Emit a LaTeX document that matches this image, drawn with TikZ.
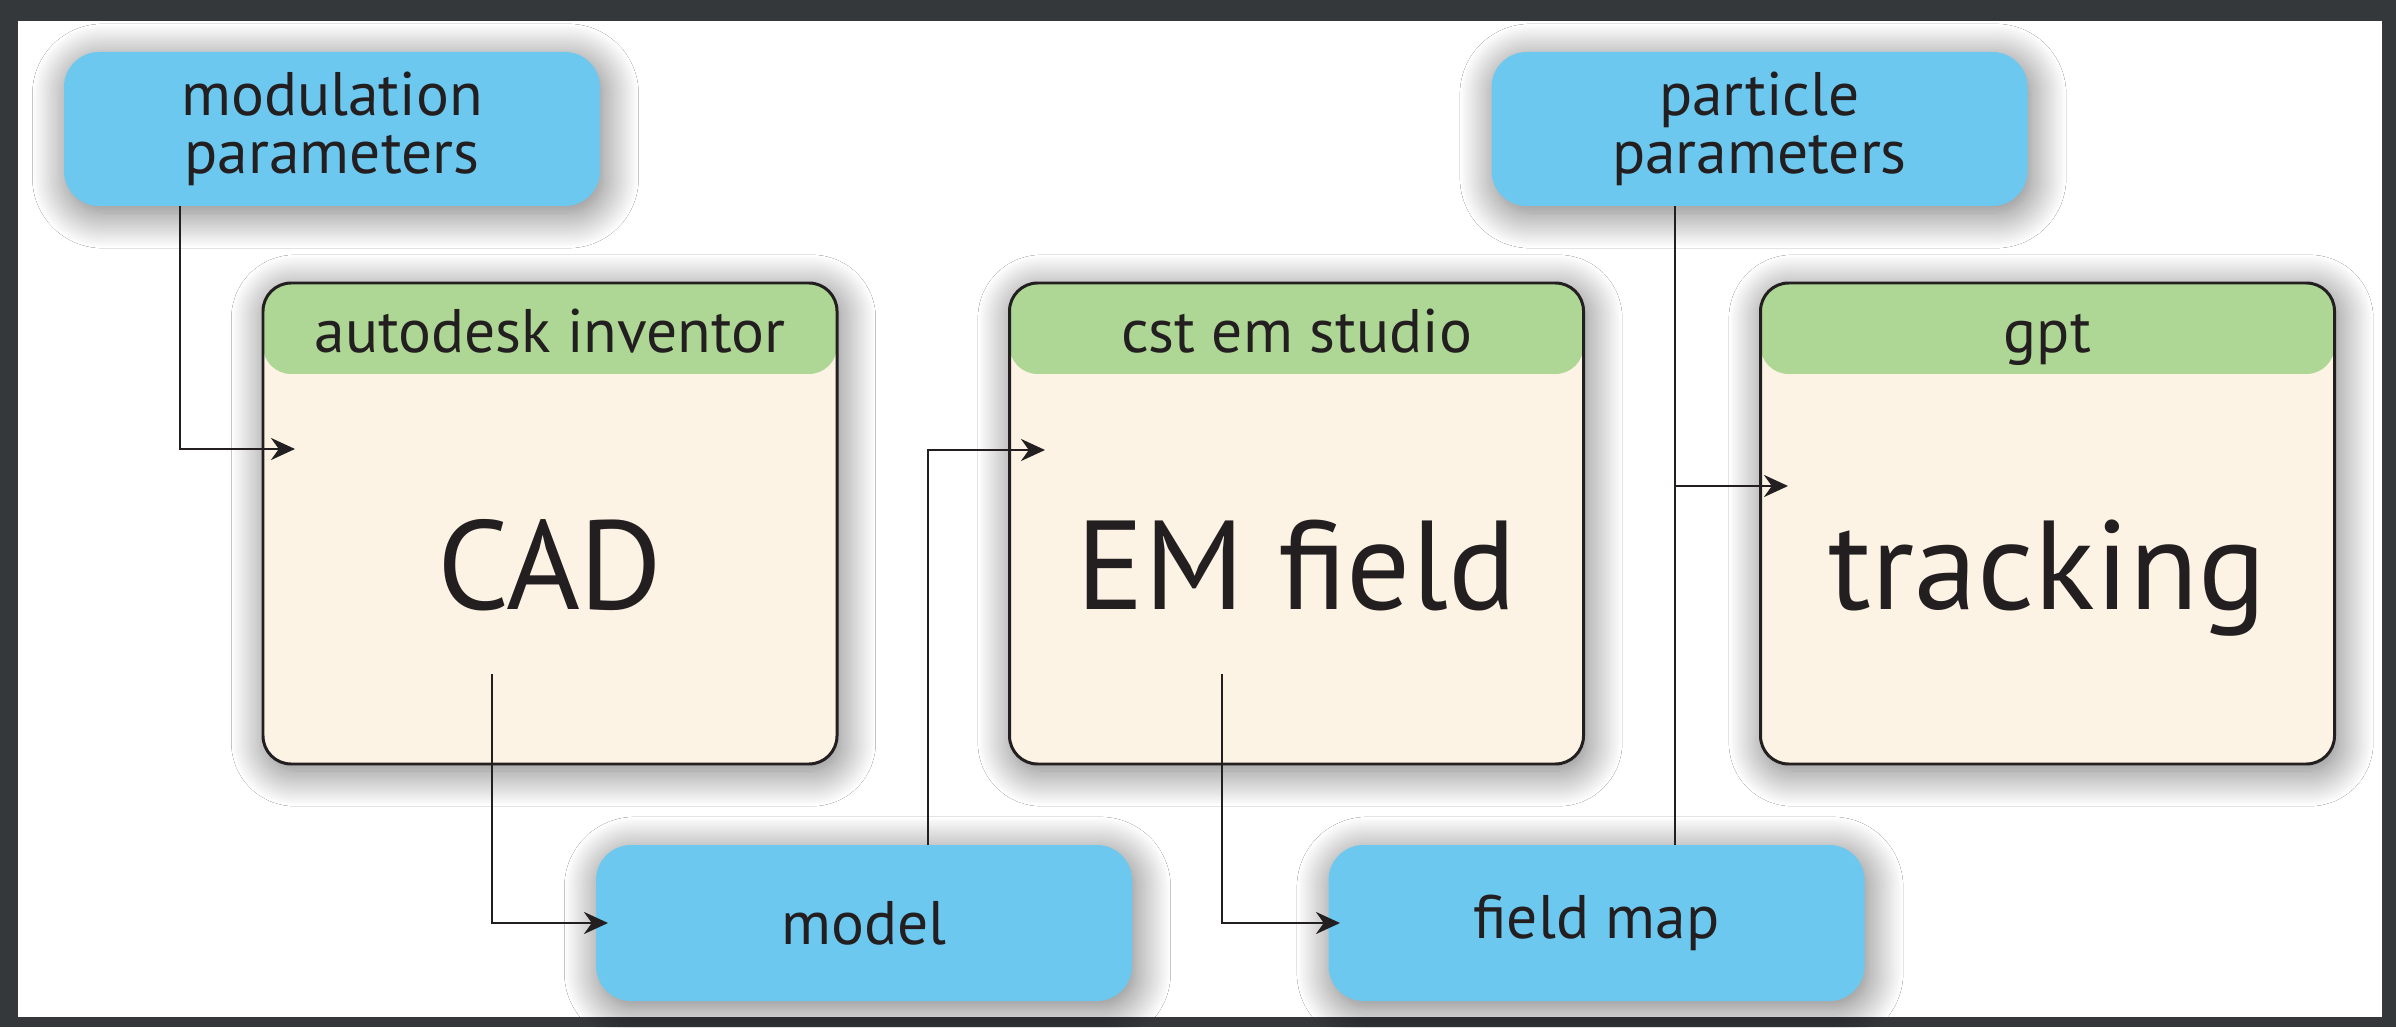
\documentclass[tikz,border=0pt]{standalone}
\usepackage{fontspec}
\setmainfont{PT Sans}
\usetikzlibrary{arrows.meta,shadows.blur}
\definecolor{inkblack}{HTML}{231F20}
\definecolor{parblue}{HTML}{6DC8F0}
\definecolor{hdrgreen}{HTML}{AED694}
\definecolor{bodycream}{HTML}{FDF3E4}
\definecolor{framegray}{HTML}{34383B}
\begin{document}
\begin{tikzpicture}[
  softshadow/.style={blur shadow={shadow blur radius=10pt, shadow blur steps=25, shadow xshift=1pt, shadow yshift=-2pt, shadow opacity=55}},
  parbox/.style={fill=parblue, rounded corners=10pt, minimum width=5.36cm, minimum height=1.54cm, align=center, inner sep=0pt, text=inkblack, font=\fontsize{17.5}{16.5}\selectfont, softshadow},
  toolbox/.style={draw=inkblack, line width=0.85pt, fill=bodycream, rounded corners=8pt, minimum width=5.74cm, minimum height=4.81cm, softshadow,
    path picture={\fill[hdrgreen] ([yshift=-0.91cm]path picture bounding box.north west) rectangle (path picture bounding box.north east);}},
  hdrtext/.style={anchor=base, text=inkblack, font=\fontsize{17.5}{20}\selectfont},
  bigtext/.style={anchor=base, text=inkblack, font=\fontsize{36}{40}\selectfont},
  flow/.style={draw=inkblack, line width=0.8pt, -{Stealth[length=0.24cm, width=0.22cm]}},
  wire/.style={draw=inkblack, line width=0.8pt}
]
% frame
\fill[framegray] (0,0) rectangle (23.96,10.27);
\fill[white] (0.18,0.10) rectangle (23.82,10.06);

% parameter boxes
\node[parbox] (modpar) at (3.32,8.98) {modulation\\parameters};
\node[parbox] (partpar) at (17.595,8.98) {particle\\parameters};
\node[parbox, minimum height=1.56cm] (model) at (8.64,1.04) {model};
\node[parbox, minimum height=1.56cm] (fmap) at (15.965,1.04) {field map};

% tool boxes
\node[toolbox] (cad) at (5.50,5.035) {};
\node[hdrtext] (cadhdr) at ([yshift=-0.71cm]cad.north) {autodesk inventor};
\node[bigtext] (cadtxt) at ([yshift=-3.28cm]cad.north) {CAD};
\node[toolbox] (em) at (12.965,5.035) {};
\node[hdrtext] (emhdr) at ([yshift=-0.71cm]em.north) {cst em studio};
\node[bigtext] (emtxt) at ([yshift=-3.28cm]em.north) {EM field};
\node[toolbox] (trk) at (20.475,5.035) {};
\node[hdrtext] (trkhdr) at ([yshift=-0.71cm]trk.north) {gpt};
\node[bigtext] (trktxt) at ([yshift=-3.28cm]trk.north) {tracking};

% connector ends
\coordinate (modout) at (1.80,8.21);
\coordinate (cadin) at (2.95,5.78);
\coordinate (cadout) at (4.92,3.53);
\coordinate (modelin) at (6.08,1.04);
\coordinate (modelout) at (9.28,1.82);
\coordinate (emin) at (10.45,5.77);
\coordinate (emout) at (12.22,3.53);
\coordinate (fmapin) at (13.40,1.04);
\coordinate (partout) at (16.75,8.21);
\coordinate (fmaptop) at (16.75,1.82);
\coordinate (trkjoin) at (16.75,5.41);
\coordinate (trkin) at (17.88,5.41);

\draw[flow] (modout) |- (cadin);
\draw[flow] (cadout) |- (modelin);
\draw[flow] (modelout) |- (emin);
\draw[flow] (emout) |- (fmapin);
\draw[wire] (partout) -- (fmaptop);
\draw[flow] (trkjoin) -- (trkin);
\end{tikzpicture}
\end{document}
